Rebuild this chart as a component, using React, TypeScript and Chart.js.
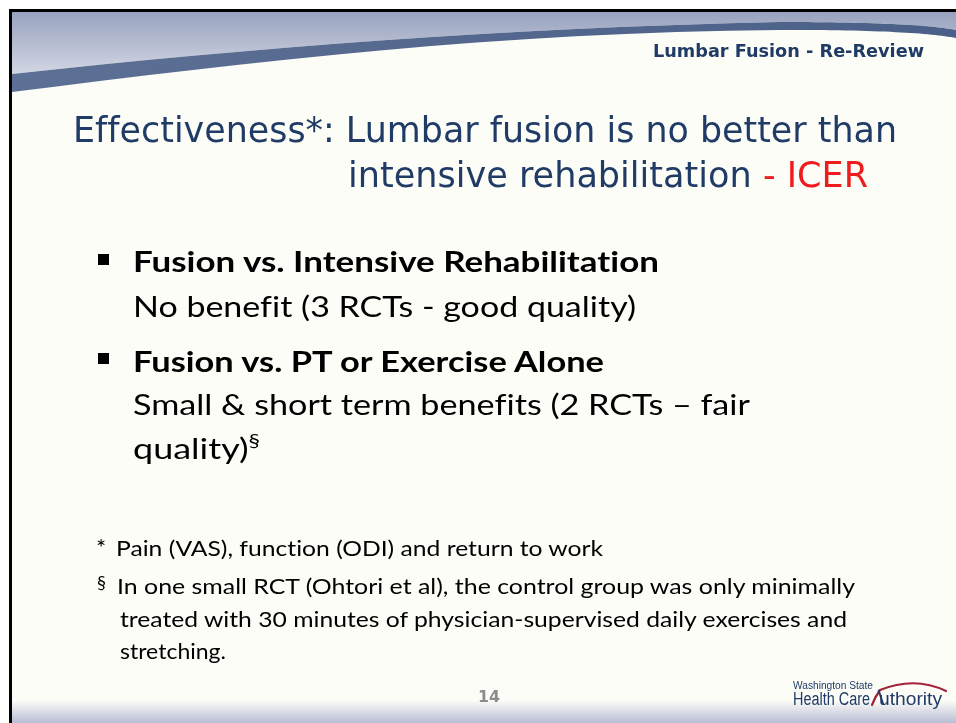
import React, { useEffect, useLayoutEffect, useRef } from "react";
import { Chart, registerables } from "chart.js";

Chart.register(...registerables);

const headerText = "Lumbar Fusion - Re-Review";
const titleLine1 = "Effectiveness*: Lumbar fusion is no better than";
const titleLine2 = "intensive rehabilitation ";
const titleAccent = "- ICER";
const bullet1Head = "Fusion vs. Intensive Rehabilitation";
const bullet1Body = "No benefit (3 RCTs - good quality)";
const bullet2Head = "Fusion vs. PT or Exercise Alone";
const bullet2Body1 = "Small & short term benefits (2 RCTs \u2013 fair";
const bullet2Body2 = "quality)";
const footnote1 = "Pain (VAS), function (ODI) and return to work";
const footnote2 = [
  "In one small RCT (Ohtori et al), the control group was only minimally",
  "treated with 30 minutes of physician-supervised daily exercises and",
  "stretching.",
];
const pageNumber = "14";
const logoSmall = "Washington State";
const logoBig1 = "Health Care";
const logoBig2 = "Authority";

const NAVY = "#1f3b66";
const TITLE_FONT = "'DejaVu Sans', Verdana, sans-serif";
const BODY_FONT = "Lato, 'Open Sans', sans-serif";
const LOGO_FONT = "'Liberation Sans Narrow', 'Liberation Sans', Arial, sans-serif";

type TxtProps = {
  x: number;
  base: number;
  size: number;
  family: string;
  weight?: string | number;
  color?: string;
  w?: number;
  children: React.ReactNode;
};

function Txt({ x, base, size, family, weight = "normal", color = "#000", w, children }: TxtProps) {
  const ref = useRef<HTMLDivElement>(null);
  useLayoutEffect(() => {
    const el = ref.current;
    if (!el) return;
    const c = document.createElement("canvas").getContext("2d");
    if (c) {
      c.font = `${weight} ${size}px ${family}`;
      const m = c.measureText("Hg");
      const A = (m as any).fontBoundingBoxAscent ?? size * 0.9;
      const D = (m as any).fontBoundingBoxDescent ?? size * 0.2;
      el.style.top = `${base - (size / 2 + (A - D) / 2)}px`;
    }
    el.style.transform = "none";
    const nat = el.getBoundingClientRect().width;
    if (w && nat > 0) el.style.transform = `scaleX(${w / nat})`;
  });
  return (
    <div
      ref={ref}
      style={{
        position: "absolute",
        left: x,
        top: base - size,
        fontSize: size,
        lineHeight: `${size}px`,
        fontFamily: family,
        fontWeight: weight as any,
        fontVariantLigatures: "none",
        fontFeatureSettings: '"liga" 0, "clig" 0',
        color,
        whiteSpace: "nowrap",
        transformOrigin: "0 0",
      }}
    >
      {children}
    </div>
  );
}

const backgroundPlugin = {
  id: "slideBackground",
  beforeDraw(chart: any) {
    const ctx: CanvasRenderingContext2D = chart.ctx;
    const W = chart.width;
    const H = chart.height;
    ctx.save();
    ctx.fillStyle = "#ffffff";
    ctx.fillRect(0, 0, W, H);
    ctx.fillStyle = "#fdfdf8";
    ctx.fillRect(9, 9, W - 9, H - 9);

    // top gradient region
    const g = ctx.createLinearGradient(0, 12, 0, 95);
    g.addColorStop(0, "#98a2bf");
    g.addColorStop(1, "#e6e8ef");
    ctx.fillStyle = g;
    ctx.beginPath();
    ctx.moveTo(12, 12);
    ctx.lineTo(W, 12);
    ctx.lineTo(W, 30);
    ctx.bezierCurveTo(930, 25, 880, 22, 780, 22);
    ctx.bezierCurveTo(500, 28, 250, 48, 12, 74);
    ctx.closePath();
    ctx.fill();

    // dark swoosh band
    const bg = ctx.createLinearGradient(0, 0, W, 0);
    bg.addColorStop(0, "#5d7095");
    bg.addColorStop(1, "#4b6088");
    ctx.fillStyle = bg;
    ctx.beginPath();
    ctx.moveTo(12, 74);
    ctx.bezierCurveTo(250, 48, 500, 28, 780, 22);
    ctx.bezierCurveTo(880, 22, 930, 25, W, 30);
    ctx.lineTo(W, 38);
    ctx.bezierCurveTo(930, 33, 880, 30, 780, 30);
    ctx.bezierCurveTo(500, 32, 250, 62, 12, 92);
    ctx.closePath();
    ctx.fill();

    // bottom gradient
    const bb = ctx.createLinearGradient(0, 700, 0, H);
    bb.addColorStop(0, "rgba(253,253,248,1)");
    bb.addColorStop(1, "#b9bdd4");
    ctx.fillStyle = bb;
    ctx.fillRect(12, 700, W - 12, H - 700);

    // black border
    ctx.fillStyle = "#000";
    ctx.fillRect(9, 9, 3, H - 9);
    ctx.fillRect(9, 9, W - 9, 3);

    // red logo swoosh (left leg of the "A" and the arc)
    ctx.strokeStyle = "#a3233a";
    ctx.lineCap = "round";
    ctx.lineWidth = 2.2;
    ctx.beginPath();
    ctx.moveTo(872, 705);
    ctx.quadraticCurveTo(875, 697, 880, 690);
    ctx.quadraticCurveTo(915, 676, 946, 691);
    ctx.stroke();
    ctx.restore();
  },
};

function Background() {
  const ref = useRef<HTMLCanvasElement>(null);
  useEffect(() => {
    if (!ref.current) return;
    const chart = new Chart(ref.current, {
      type: "scatter",
      data: { datasets: [] },
      options: {
        animation: false,
        responsive: true,
        maintainAspectRatio: false,
        events: [],
        layout: { padding: 0 },
        plugins: { legend: { display: false }, tooltip: { enabled: false } },
        scales: { x: { display: false }, y: { display: false } },
      },
      plugins: [backgroundPlugin],
    });
    return () => chart.destroy();
  }, []);
  return (
    <div style={{ position: "absolute", left: 0, top: 0, width: 956, height: 723 }}>
      <canvas ref={ref} />
    </div>
  );
}

export default function App() {
  return (
    <div style={{ position: "fixed", left: 0, top: 0, width: 956, height: 723, overflow: "hidden", background: "#fff" }}>
      <Background />
      <Txt x={653} base={57} size={17} family={TITLE_FONT} weight="bold" color={NAVY} w={271}>
        {headerText}
      </Txt>
      <Txt x={73} base={142} size={35} family={TITLE_FONT} color={NAVY} w={824}>
        {titleLine1}
      </Txt>
      <Txt x={348} base={187} size={35} family={TITLE_FONT} color={NAVY} w={520}>
        {titleLine2}
        <span style={{ color: "#ee1c1c" }}>{titleAccent}</span>
      </Txt>

      <div style={{ position: "absolute", left: 98, top: 254, width: 11, height: 11, background: "#000" }} />
      <Txt x={133} base={272} size={28} family={BODY_FONT} weight="bold" w={526}>
        {bullet1Head}
      </Txt>
      <Txt x={133} base={317} size={28} family={BODY_FONT} w={503}>
        {bullet1Body}
      </Txt>

      <div style={{ position: "absolute", left: 98, top: 353, width: 11, height: 11, background: "#000" }} />
      <Txt x={133} base={372} size={28} family={BODY_FONT} weight="bold" w={471}>
        {bullet2Head}
      </Txt>
      <Txt x={133} base={415} size={28} family={BODY_FONT} w={617}>
        {bullet2Body1}
      </Txt>
      <Txt x={133} base={459} size={28} family={BODY_FONT} w={127}>
        {bullet2Body2}
        <span style={{ fontSize: 18, position: "relative", top: -12, lineHeight: 0 }}>§</span>
      </Txt>

      <Txt x={96} base={556} size={24} family={BODY_FONT}>
        *
      </Txt>
      <Txt x={116} base={556} size={21} family={BODY_FONT} w={487}>
        {footnote1}
      </Txt>
      <Txt x={97} base={589} size={18} family={BODY_FONT}>
        §
      </Txt>
      <Txt x={117} base={594} size={21} family={BODY_FONT} w={738}>
        {footnote2[0]}
      </Txt>
      <Txt x={120} base={627} size={21} family={BODY_FONT} w={727}>
        {footnote2[1]}
      </Txt>
      <Txt x={120} base={659} size={21} family={BODY_FONT} w={106}>
        {footnote2[2]}
      </Txt>

      <Txt x={478} base={702} size={16} family={TITLE_FONT} weight="bold" color="#8c8c8c" w={22}>
        {pageNumber}
      </Txt>
      <Txt x={793} base={689} size={10} family={LOGO_FONT} color={NAVY} w={80}>
        {logoSmall}
      </Txt>
      <Txt x={793} base={705} size={18} family={LOGO_FONT} color={NAVY} w={77}>
        {logoBig1}
      </Txt>
      <Txt x={879} base={705} size={18} family={LOGO_FONT} color={NAVY} w={63}>
        {logoBig2.slice(1)}
      </Txt>
      <div style={{ position: "absolute", left: 880, top: 690, width: 2, height: 15, background: NAVY, transform: "skewX(18deg)" }} />
    </div>
  );
}
